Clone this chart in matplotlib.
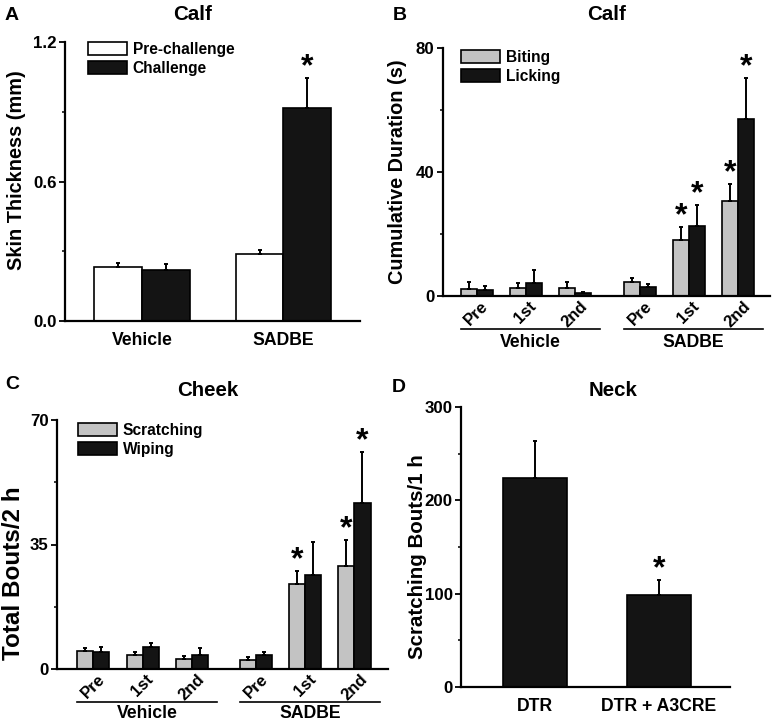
import numpy as np
import matplotlib
matplotlib.use("Agg")
import matplotlib.pyplot as plt
from matplotlib.patches import Patch
from matplotlib.ticker import MultipleLocator

plt.rcParams['font.family'] = ['Liberation Sans', 'DejaVu Sans']
plt.rcParams['font.weight'] = 'bold'
plt.rcParams['axes.labelweight'] = 'bold'

W, H = 775, 725

# panel A - calf skin thickness
a_groups = ["Vehicle", "SADBE"]
a_pre = [0.232, 0.287]
a_pre_err = [0.016, 0.018]
a_chal = [0.219, 0.915]
a_chal_err = [0.026, 0.129]
a_sig = [False, True]

# panel B - calf biting / licking
sessions = ["Pre", "1st", "2nd", "Pre", "1st", "2nd"]
b_biting = [2.4, 2.7, 2.6, 4.4, 18.0, 30.7]
b_biting_err = [2.1, 1.4, 1.9, 1.5, 4.1, 5.3]
b_licking = [1.8, 4.2, 0.9, 2.9, 22.4, 57.0]
b_licking_err = [1.3, 4.2, 0.5, 0.9, 6.9, 13.2]
b_sig_biting = [False, False, False, False, True, True]
b_sig_licking = [False, False, False, False, True, True]

# panel C - cheek scratching / wiping
c_scratch = [5.2, 3.8, 2.7, 2.6, 23.8, 29.0]
c_scratch_err = [0.6, 1.1, 1.0, 0.7, 3.8, 7.3]
c_wipe = [4.8, 6.1, 3.9, 3.9, 26.4, 46.6]
c_wipe_err = [1.3, 1.3, 2.1, 1.0, 9.2, 14.5]
c_sig_scratch = [False, False, False, False, True, True]
c_sig_wipe = [False, False, False, False, False, True]

# panel D - neck scratching
d_groups = ["DTR", "DTR + A3CRE"]
d_vals = [224, 99]
d_err = [40, 16]
d_sig = [False, True]

GREY = "#c3c3c3"
BLACK = "#141414"

fig = plt.figure(figsize=(W / 100, H / 100), dpi=100)


def px_axes(left, top, right, bottom):
    return fig.add_axes([left / W, 1 - bottom / H, (right - left) / W, (bottom - top) / H])


def style(ax):
    for s in ["top", "right"]:
        ax.spines[s].set_visible(False)
    for s in ["left", "bottom"]:
        ax.spines[s].set_linewidth(1.6)
    ax.tick_params(axis="y", which="major", direction="out", length=4, width=1.3,
                   labelsize=12.2, pad=2)
    ax.tick_params(axis="y", which="minor", direction="out", length=2.5, width=1.1)
    ax.tick_params(axis="x", length=0, labelsize=12.7)


def bars(ax, x, vals, errs, color):
    ax.bar(x, vals, width=w, color=color, edgecolor="black", linewidth=1.2, zorder=2)
    ax.errorbar(x, vals, yerr=[np.zeros(len(vals)), errs], fmt="none", ecolor="black",
                elinewidth=1.4, capsize=1.6, capthick=1.4, zorder=3)


def stars(ax, x, vals, errs, sig, off=-3):
    for xi, v, e, s in zip(x, vals, errs, sig):
        if s:
            ax.annotate("*", (xi, v + e), xytext=(0, off), textcoords="offset points",
                        ha="center", va="bottom", fontsize=23, fontweight="bold")


def legend(ax, labels, colors, x, y):
    handles = [Patch(facecolor=c, edgecolor="black", linewidth=1.2) for c in colors]
    ax.legend(handles, labels, loc="upper left", bbox_to_anchor=(x / W, 1 - y / H),
              bbox_transform=fig.transFigure, frameon=False, fontsize=11.2,
              handlelength=2.5, handleheight=0.93, handletextpad=0.37,
              labelspacing=0.24, borderpad=0, borderaxespad=0)


def group_lines(ax, pos, ly, ty):
    tr = ax.get_xaxis_transform()
    for grp, name in [(pos[:3], "Vehicle"), (pos[3:], "SADBE")]:
        ax.plot([grp[0] - w, grp[-1] + w * 1.6], [ly, ly], color="black", lw=1.2,
                transform=tr, clip_on=False)
        ax.text((grp[0] - w + grp[-1] + w * 1.6) / 2, ty, name, transform=tr,
                ha="center", va="center", fontsize=12.7, fontweight="bold")


# ---------- A ----------
ax = px_axes(65, 42, 360, 321)
style(ax)
xa = np.arange(len(a_groups))
w = 0.336
bars(ax, xa - w / 2, a_pre, a_pre_err, "white")
bars(ax, xa + w / 2, a_chal, a_chal_err, BLACK)
stars(ax, xa + w / 2, a_chal, a_chal_err, a_sig)
ax.set_ylim(0, 1.2)
ax.set_xlim(-0.544, 1.541)
ax.yaxis.set_major_locator(MultipleLocator(0.6))
ax.yaxis.set_minor_locator(MultipleLocator(0.3))
ax.yaxis.set_major_formatter(matplotlib.ticker.FormatStrFormatter("%.1f"))
ax.set_xticks(xa)
ax.set_xticklabels(a_groups)
ax.tick_params(axis="x", pad=8)
ax.set_ylabel("Skin Thickness (mm)", fontsize=14.3)
ax.yaxis.set_label_coords(-0.132, 0.541)
legend(ax, ["Pre-challenge", "Challenge"], ["white", BLACK], 88, 42)

# ---------- B ----------
ax = px_axes(443, 47.7, 770, 296)
style(ax)
xb = np.array([0, 1, 2, 3.33, 4.33, 5.33])
w = 0.327
bars(ax, xb - w / 2, b_biting, b_biting_err, GREY)
bars(ax, xb + w / 2, b_licking, b_licking_err, BLACK)
stars(ax, xb - w / 2, b_biting, b_biting_err, b_sig_biting)
stars(ax, xb + w / 2, b_licking, b_licking_err, b_sig_licking)
ax.set_ylim(0, 80)
ax.set_xlim(-0.688, 5.99)
ax.yaxis.set_major_locator(MultipleLocator(40))
ax.yaxis.set_minor_locator(MultipleLocator(20))
ax.set_xticks(xb)
ax.set_xticklabels(sessions, rotation=45, ha="center", fontsize=12)
ax.tick_params(axis="x", pad=2)
ax.set_ylabel("Cumulative Duration (s)", fontsize=14.3)
ax.yaxis.set_label_coords(-0.110, 0.501)
legend(ax, ["Biting", "Licking"], [GREY, BLACK], 461, 50)
group_lines(ax, xb, -0.133, -0.187)

# ---------- C ----------
ax = px_axes(57, 420, 388, 669)
style(ax)
xc = np.array([0, 1, 2, 3.3, 4.3, 5.3])
w = 0.325
bars(ax, xc - w / 2, c_scratch, c_scratch_err, GREY)
bars(ax, xc + w / 2, c_wipe, c_wipe_err, BLACK)
stars(ax, xc - w / 2, c_scratch, c_scratch_err, c_sig_scratch)
stars(ax, xc + w / 2, c_wipe, c_wipe_err, c_sig_wipe)
ax.set_ylim(0, 70)
ax.set_xlim(-0.736, 5.98)
ax.yaxis.set_major_locator(MultipleLocator(35))
ax.yaxis.set_minor_locator(MultipleLocator(17.5))
ax.set_xticks(xc)
ax.set_xticklabels(sessions, rotation=45, ha="center", fontsize=12)
ax.tick_params(axis="x", pad=2)
ax.set_ylabel("Total Bouts/2 h", fontsize=17.5)
ax.yaxis.set_label_coords(-0.097, 0.386)
legend(ax, ["Scratching", "Wiping"], [GREY, BLACK], 78, 423)
group_lines(ax, xc, -0.1325, -0.179)

# ---------- D ----------
ax = px_axes(461, 407, 730, 687)
style(ax)
xd = np.arange(len(d_groups))
w = 0.516
bars(ax, xd, d_vals, d_err, BLACK)
stars(ax, xd, d_vals, d_err, d_sig)
ax.set_ylim(0, 300)
ax.set_xlim(-0.597, 1.573)
ax.yaxis.set_major_locator(MultipleLocator(100))
ax.yaxis.set_minor_locator(MultipleLocator(50))
ax.set_xticks(xd)
ax.set_xticklabels(d_groups)
ax.tick_params(axis="x", pad=8)
ax.set_ylabel("Scratching Bouts/1 h", fontsize=14.8)
ax.yaxis.set_label_coords(-0.126, 0.464)

# titles and panel letters
for txt, x, y in [("Calf", 193, 15), ("Calf", 607, 15), ("Cheek", 208, 390), ("Neck", 613, 390)]:
    fig.text(x / W, 1 - y / H, txt, ha="center", va="center", fontsize=14.8, fontweight="bold")
for txt, x, y in [("A", 12, 15), ("B", 400, 15), ("C", 12, 385), ("D", 399, 387)]:
    fig.text(x / W, 1 - y / H, txt, ha="center", va="center", fontsize=14, fontweight="bold")

fig.savefig("out.png", dpi=100)
